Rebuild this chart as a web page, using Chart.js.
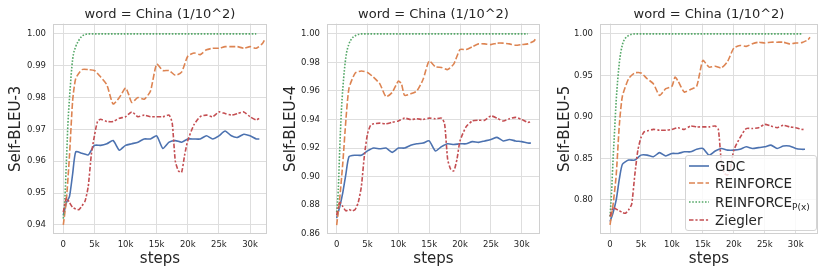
<!DOCTYPE html>
<html>
<head>
<meta charset="utf-8">
<script src="https://cdn.jsdelivr.net/npm/chart.js@4.4.1/dist/chart.umd.min.js"></script>
<style>
  html, body { margin: 0; padding: 0; background: #fff; }
  body { width: 830px; height: 277px; position: relative; overflow: hidden; font-family: 'DejaVu Sans', sans-serif; }
  .panel { position: absolute; top: 0; height: 277px; }
  #legend { position: absolute; left: 685px; top: 155px; width: 130px; height: 74px;
    border: 1px solid #d4d4d4; border-radius: 3px; background: rgba(255,255,255,0.8); }
  .row { position: absolute; left: 0; height: 18px; display: flex; align-items: center; font-size: 13.5px; color: #262626; white-space: nowrap; }
  .row svg { margin-left: 3px; margin-right: 6px; }
  .row sub { font-size: 9px; vertical-align: -3px; line-height: 0; }
</style>
</head>
<body>
<div class="panel" id="p1" style="left:0px;width:275px;"><canvas id="c1"></canvas></div>
<div class="panel" id="p2" style="left:275px;width:275px;"><canvas id="c2"></canvas></div>
<div class="panel" id="p3" style="left:549px;width:281px;"><canvas id="c3"></canvas></div>
<div id="legend">
  <div class="row" style="top:1px;"><svg width="20" height="6"><line x1="0" y1="3" x2="20" y2="3" stroke="#4C72B0" stroke-width="1.6"/></svg><span>GDC</span></div>
  <div class="row" style="top:18px;"><svg width="20" height="6"><line x1="0" y1="3" x2="20" y2="3" stroke="#DD8452" stroke-width="1.6" stroke-dasharray="6,2.3"/></svg><span>REINFORCE</span></div>
  <div class="row" style="top:37px;"><svg width="20" height="6"><line x1="0" y1="3" x2="20" y2="3" stroke="#55A868" stroke-width="1.6" stroke-dasharray="1.6,1.6"/></svg><span>REINFORCE<sub>P(x)</sub></span></div>
  <div class="row" style="top:55px;"><svg width="20" height="6"><line x1="0" y1="3" x2="20" y2="3" stroke="#C44E52" stroke-width="1.6" stroke-dasharray="4.5,1.9,2.2,1.9"/></svg><span>Ziegler</span></div>
</div>
<script>
// ---------- DATA ----------
const seriesNames = ['GDC', 'REINFORCE', 'REINFORCE_P(x)', 'Ziegler'];
const panelTitles = ['word = China (1/10^2)', 'word = China (1/10^2)', 'word = China (1/10^2)'];
const yLabels = ['Self-BLEU-3', 'Self-BLEU-4', 'Self-BLEU-5'];

const stepsGDC = [0,500,1000,1500,2000,3000,4000,5000,6000,7000,8000,9000,10000,11000,12000,13000,14000,15000,16000,17000,18000,19000,20000,21000,22000,23000,24000,25000,26000,27000,28000,29000,30000,31000,31500];
const stepsRF = [0,500,1000,1500,2000,3000,4000,5000,6000,7000,8000,9000,10000,10500,11000,12000,13000,14000,15000,16000,17000,18000,19000,20000,21000,22000,23000,24000,25000,26000,27000,28000,29000,30000,31000,32000,32300];
const stepsRFP = [0,250,500,750,1000,1500,2000,2500,3000,3500,4000,5000,10000,15000,20000,25000,31000];
const stepsZ = [0,500,1000,1500,2000,2500,3000,3500,4000,4500,5000,5500,6000,7000,8000,9000,10000,11000,12000,13000,14000,15000,16000,17000,17500,18000,18500,19000,19500,20000,21000,22000,23000,24000,25000,26000,27000,28000,29000,30000,31000,31500];

// Self-BLEU-3
const gdc3 = [0.943,0.947,0.949,0.956,0.963,0.9625,0.962,0.965,0.965,0.9655,0.9665,0.9635,0.965,0.9655,0.966,0.967,0.967,0.968,0.964,0.966,0.9665,0.966,0.967,0.967,0.967,0.968,0.967,0.968,0.9695,0.968,0.9675,0.9685,0.968,0.967,0.967];
const rf3 = [0.940,0.948,0.962,0.979,0.986,0.9888,0.9888,0.9885,0.9865,0.984,0.978,0.980,0.983,0.981,0.9785,0.980,0.9795,0.982,0.9905,0.9885,0.9885,0.987,0.988,0.993,0.994,0.9935,0.995,0.9955,0.9955,0.996,0.996,0.996,0.9955,0.996,0.9955,0.997,0.998];
const rfp3 = [0.942,0.948,0.960,0.972,0.980,0.992,0.996,0.998,0.9993,0.9998,1.0,1.0,1.0,1.0,1.0,1.0,1.0];
const zie3 = [0.944,0.9485,0.947,0.9455,0.945,0.9448,0.946,0.9475,0.952,0.962,0.968,0.9725,0.9732,0.9725,0.9725,0.9735,0.974,0.9755,0.974,0.9745,0.974,0.974,0.974,0.9745,0.972,0.960,0.957,0.9565,0.962,0.9665,0.9715,0.974,0.9745,0.974,0.9755,0.975,0.9745,0.975,0.9755,0.974,0.973,0.9735];

// Self-BLEU-4
const gdc4 = [0.871,0.879,0.889,0.902,0.914,0.915,0.915,0.918,0.920,0.9195,0.920,0.917,0.920,0.920,0.922,0.923,0.9235,0.925,0.918,0.921,0.923,0.9225,0.923,0.923,0.9245,0.924,0.925,0.926,0.9275,0.925,0.926,0.925,0.9245,0.9235,0.9235];
const rf4 = [0.866,0.885,0.910,0.940,0.962,0.9725,0.974,0.973,0.9695,0.965,0.956,0.959,0.967,0.965,0.957,0.958,0.960,0.968,0.981,0.977,0.9765,0.975,0.979,0.989,0.989,0.991,0.993,0.993,0.9925,0.9935,0.9935,0.993,0.992,0.9925,0.993,0.995,0.997];
const rfp4 = [0.875,0.890,0.920,0.945,0.962,0.984,0.993,0.997,0.9987,0.9996,1.0,1.0,1.0,1.0,1.0,1.0,1.0];
const zie4 = [0.873,0.882,0.879,0.876,0.877,0.876,0.877,0.882,0.893,0.915,0.930,0.936,0.937,0.9375,0.937,0.938,0.939,0.941,0.940,0.9405,0.940,0.941,0.9405,0.941,0.937,0.912,0.905,0.904,0.912,0.925,0.935,0.939,0.9395,0.9395,0.9425,0.941,0.939,0.9405,0.9415,0.940,0.938,0.9385];

// Self-BLEU-5
const gdc5 = [0.774,0.785,0.800,0.825,0.843,0.848,0.848,0.854,0.854,0.852,0.857,0.853,0.856,0.856,0.858,0.858,0.861,0.862,0.854,0.859,0.862,0.860,0.860,0.861,0.864,0.862,0.863,0.864,0.866,0.862,0.865,0.865,0.862,0.861,0.861];
const rf5 = [0.770,0.795,0.830,0.890,0.925,0.946,0.953,0.953,0.946,0.940,0.926,0.934,0.937,0.948,0.943,0.930,0.933,0.937,0.968,0.960,0.961,0.959,0.967,0.983,0.986,0.985,0.988,0.990,0.989,0.990,0.990,0.990,0.988,0.989,0.9895,0.993,0.996];
const rfp5 = [0.780,0.810,0.850,0.885,0.920,0.965,0.987,0.995,0.998,0.9995,1.0,1.0,1.0,1.0,1.0,1.0,1.0];
const zie5 = [0.780,0.791,0.789,0.787,0.785,0.784,0.788,0.795,0.830,0.860,0.875,0.882,0.883,0.885,0.884,0.884,0.885,0.887,0.885,0.889,0.888,0.888,0.888,0.889,0.885,0.845,0.832,0.830,0.840,0.860,0.875,0.886,0.886,0.887,0.891,0.889,0.887,0.890,0.888,0.887,0.885,0.885];

// tick labels
const xTicks = [0, 5000, 10000, 15000, 20000, 25000, 30000];
const xTickLabels = ['0', '5k', '10k', '15k', '20k', '25k', '30k'];
const yTicks3 = [0.94, 0.95, 0.96, 0.97, 0.98, 0.99, 1.00];
const yTicks4 = [0.86, 0.88, 0.90, 0.92, 0.94, 0.96, 0.98, 1.00];
const yTicks5 = [0.80, 0.85, 0.90, 0.95, 1.00];

// ---------- STYLE / LAYOUT ----------
const colors = ['#4C72B0', '#DD8452', '#55A868', '#C44E52'];
const dashes = [[], [6, 2.3], [1.6, 1.6], [4.5, 1.9, 2.2, 1.9]];
const FONT = "'DejaVu Sans', sans-serif";
const panels = [
  {id: 'c1', data: [gdc3, rf3, rfp3, zie3], yTicks: yTicks3, yMin: 0.93716, yMax: 1.00324, xMin: -1655, xMax: 32730, yw: 53, rp: 8},
  {id: 'c2', data: [gdc4, rf4, rfp4, zie4], yTicks: yTicks4, yMin: 0.8598, yMax: 1.0072, xMin: -1570, xMax: 32970, yw: 52, rp: 10},
  {id: 'c3', data: [gdc5, rf5, rfp5, zie5], yTicks: yTicks5, yMin: 0.7590, yMax: 1.0124, xMin: -1620, xMax: 33600, yw: 51, rp: 12},
];
const stepSets = [stepsGDC, stepsRF, stepsRFP, stepsZ];

const framePlugin = {
  id: 'frame',
  beforeDatasetsDraw(chart) {
    const a = chart.chartArea, ctx = chart.ctx;
    ctx.save();
    ctx.strokeStyle = '#d0d0d0';
    ctx.lineWidth = 1;
    ctx.strokeRect(Math.round(a.left) + 0.5, Math.round(a.top) + 0.5, Math.round(a.right - a.left) - 1, Math.round(a.bottom - a.top) - 1);
    ctx.restore();
  }
};

panels.forEach((p, pi) => {
  const datasets = seriesNames.map((name, si) => ({
    label: name,
    data: stepSets[si].map((s, i) => ({x: s, y: p.data[si][i]})),
    borderColor: colors[si],
    backgroundColor: colors[si],
    borderWidth: 1.6,
    borderDash: dashes[si],
    pointRadius: 0,
    fill: false,
    tension: 0.2,
    cubicInterpolationMode: si === 2 ? 'monotone' : 'default',
    order: 4 - si,
  }));
  new Chart(document.getElementById(p.id), {
    type: 'line',
    data: {datasets},
    options: {
      responsive: true,
      maintainAspectRatio: false,
      animation: false,
      events: [],
      layout: {padding: {left: 0, right: p.rp, top: 0, bottom: 0}},
      plugins: {
        legend: {display: false},
        tooltip: {enabled: false},
        title: {display: true, text: panelTitles[pi], fullSize: false, color: '#262626',
          font: {family: FONT, size: 13, weight: 'normal'}, padding: {top: 7, bottom: 1}},
      },
      scales: {
        x: {
          type: 'linear', min: p.xMin, max: p.xMax,
          grid: {color: '#dedede', lineWidth: 1, drawTicks: false},
          border: {display: false},
          afterBuildTicks: s => { s.ticks = xTicks.map(v => ({value: v})); },
          ticks: {padding: 6, color: '#262626', maxRotation: 0, autoSkip: false,
            font: {family: FONT, size: 8.5},
            callback: v => xTickLabels[xTicks.indexOf(v)]},
          title: {display: true, text: 'steps', color: '#262626', font: {family: FONT, size: 15}, padding: {top: 0, bottom: 9}},
          afterFit: s => { s.height = 43; },
        },
        y: {
          type: 'linear', min: p.yMin, max: p.yMax,
          grid: {color: '#dedede', lineWidth: 1, drawTicks: false},
          border: {display: false},
          afterBuildTicks: s => { s.ticks = p.yTicks.map(v => ({value: v})); },
          ticks: {padding: 7, color: '#262626', autoSkip: false,
            font: {family: FONT, size: 8.5},
            callback: v => v.toFixed(2)},
          title: {display: true, text: yLabels[pi], color: '#262626', font: {family: FONT, size: 15}, padding: {top: 7, bottom: 0}},
          afterFit: s => { s.width = p.yw; },
        },
      },
    },
    plugins: [framePlugin],
  });
});
</script>
</body>
</html>
